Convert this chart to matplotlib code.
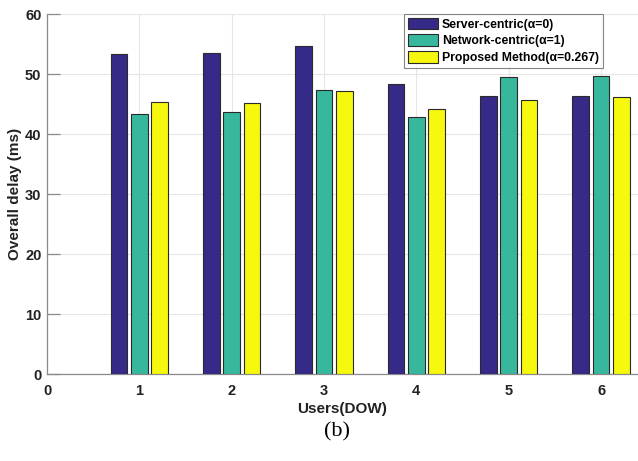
import matplotlib
matplotlib.use("Agg")
import matplotlib.pyplot as plt
import numpy as np

users = [1, 2, 3, 4, 5, 6]
server_centric = [53.3, 53.5, 54.7, 48.4, 46.3, 46.3]
network_centric = [43.3, 43.6, 47.4, 42.8, 49.5, 49.6]
proposed = [45.3, 45.1, 47.1, 44.1, 45.6, 46.2]
labels = ["Server-centric(\u03b1=0)", "Network-centric(\u03b1=1)", "Proposed Method(\u03b1=0.267)"]
yticks = [0, 10, 20, 30, 40, 50, 60]
xticks = [0, 1, 2, 3, 4, 5, 6]

colors = ["#352A87", "#37B89D", "#F6F80E"]
fam = ["Liberation Sans Narrow", "Liberation Sans", "DejaVu Sans"]

fig = plt.figure(figsize=(6.38, 4.61), dpi=100)
ax = fig.add_axes([47/638, 1 - 374/461, 1 - 47/638, (374 - 14)/461])

x = np.array(users, dtype=float)
off = 0.22
w = 0.18
for i, (vals, c, lab) in enumerate(zip([server_centric, network_centric, proposed], colors, labels)):
    ax.bar(x + (i - 1) * off, vals, width=w, color=c, edgecolor="#2a2a2a", linewidth=0.8, label=lab, zorder=3)

ax.set_xlim(0, 6.4)
ax.set_ylim(0, 60)
ax.set_xticks(xticks)
ax.set_yticks(yticks)
ax.grid(True, color="#e6e6e6", linewidth=0.8, zorder=0)
ax.set_axisbelow(True)
for s in ["top", "right"]:
    ax.spines[s].set_visible(False)
for s in ["left", "bottom"]:
    ax.spines[s].set_color("#8a8a8a")
    ax.spines[s].set_linewidth(0.9)
ax.tick_params(axis="y", direction="in", length=9, color="#8a8a8a", width=0.9, pad=4)
ax.tick_params(axis="x", direction="in", length=0, pad=7)
for t in ax.get_xticklabels() + ax.get_yticklabels():
    t.set_fontfamily(fam)
    t.set_fontweight("bold")
    t.set_fontsize(10.5)
    t.set_color("#222222")

ax.set_xlabel("Users(DOW)", fontfamily=fam, fontweight="bold", fontsize=11, color="#222222", labelpad=3)
ax.set_ylabel("Overall delay (ms)", fontfamily=fam, fontweight="bold", fontsize=11, color="#222222", labelpad=2)

leg = ax.legend(loc="upper right", bbox_to_anchor=(0.94, 1.0), frameon=True, fancybox=False,
                edgecolor="#666666", handlelength=2.5, handleheight=1.1, handletextpad=0.3,
                borderpad=0.3, labelspacing=0.3, borderaxespad=0.0,
                prop={"family": fam, "weight": "bold", "size": 8.8})
leg.get_frame().set_linewidth(0.8)

fig.text(337/638, 1 - 432/461, "(b)", ha="center", va="center", fontsize=16,
         fontfamily=["Liberation Serif", "DejaVu Serif"])

fig.savefig("out.png", dpi=100)
